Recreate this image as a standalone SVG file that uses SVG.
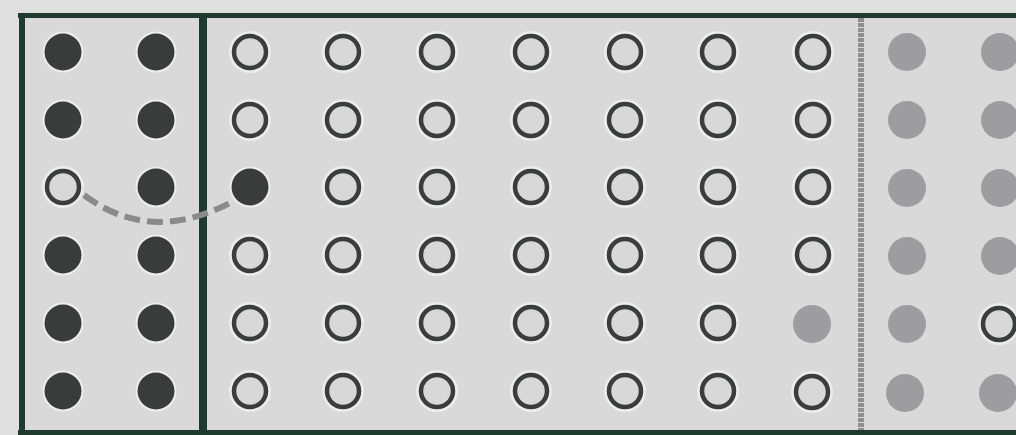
<svg xmlns="http://www.w3.org/2000/svg" width="1016" height="435" viewBox="0 0 1016 435">
<defs>
<g id="f"><circle r="20.5" fill="#eeeeee"/><circle r="18.5" fill="#3a3c3b"/></g>
<g id="o"><circle r="21" fill="#ececec"/><circle r="16" fill="#d8d8d8" stroke="#3b3d3c" stroke-width="4.5"/></g>
<g id="g"><circle r="19" fill="#9d9d9f"/></g>
</defs>
<style>
.frame{stroke:#1f3a2f;fill:none}
</style>
<rect x="0" y="0" width="1016" height="435" fill="#dfdfdf"/>
<rect x="22" y="16" width="1000" height="416" fill="#d9d9d9"/>
<g id="frame">
<line class="frame" x1="18" y1="15.5" x2="1016" y2="15.5" stroke-width="5"/>
<line class="frame" x1="22" y1="13" x2="22" y2="435" stroke-width="6"/>
<line class="frame" x1="203" y1="13" x2="203" y2="435" stroke-width="8"/>
<line class="frame" x1="18" y1="432.5" x2="1016" y2="432.5" stroke-width="5"/>
<line x1="861" y1="18" x2="861" y2="430" stroke="#8f8f8f" stroke-width="6" stroke-dasharray="4 1"/>
</g>
<g id="col0">
<use href="#f" x="63" y="52"/>
<use href="#f" x="63" y="120"/>
<use href="#o" x="63" y="187"/>
<use href="#f" x="63" y="255"/>
<use href="#f" x="63" y="323"/>
<use href="#f" x="63" y="391"/>
</g>
<g id="col1">
<use href="#f" x="156" y="52"/>
<use href="#f" x="156" y="120"/>
<use href="#f" x="156" y="187"/>
<use href="#f" x="156" y="255"/>
<use href="#f" x="156" y="323"/>
<use href="#f" x="156" y="391"/>
</g>
<g id="col2">
<use href="#o" x="250" y="52"/>
<use href="#o" x="250" y="120"/>
<use href="#f" x="250" y="187"/>
<use href="#o" x="250" y="255"/>
<use href="#o" x="250" y="323"/>
<use href="#o" x="250" y="391"/>
</g>
<g id="col3">
<use href="#o" x="343" y="52"/>
<use href="#o" x="343" y="120"/>
<use href="#o" x="343" y="187"/>
<use href="#o" x="343" y="255"/>
<use href="#o" x="343" y="323"/>
<use href="#o" x="343" y="391"/>
</g>
<g id="col4">
<use href="#o" x="437" y="52"/>
<use href="#o" x="437" y="120"/>
<use href="#o" x="437" y="187"/>
<use href="#o" x="437" y="255"/>
<use href="#o" x="437" y="323"/>
<use href="#o" x="437" y="391"/>
</g>
<g id="col5">
<use href="#o" x="531" y="52"/>
<use href="#o" x="531" y="120"/>
<use href="#o" x="531" y="187"/>
<use href="#o" x="531" y="255"/>
<use href="#o" x="531" y="323"/>
<use href="#o" x="531" y="391"/>
</g>
<g id="col6">
<use href="#o" x="625" y="52"/>
<use href="#o" x="625" y="120"/>
<use href="#o" x="625" y="187"/>
<use href="#o" x="625" y="255"/>
<use href="#o" x="625" y="323"/>
<use href="#o" x="625" y="391"/>
</g>
<g id="col7">
<use href="#o" x="718" y="52"/>
<use href="#o" x="718" y="120"/>
<use href="#o" x="718" y="187"/>
<use href="#o" x="718" y="255"/>
<use href="#o" x="718" y="323"/>
<use href="#o" x="718" y="391"/>
</g>
<g id="col8">
<use href="#o" x="813" y="52"/>
<use href="#o" x="813" y="120"/>
<use href="#o" x="813" y="187"/>
<use href="#o" x="813" y="255"/>
<use href="#g" x="812" y="324"/>
<use href="#o" x="812" y="392"/>
</g>
<g id="col9">
<use href="#g" x="907" y="52"/>
<use href="#g" x="907" y="120"/>
<use href="#g" x="907" y="188"/>
<use href="#g" x="907" y="256"/>
<use href="#g" x="907" y="324"/>
<use href="#g" x="905" y="393"/>
</g>
<g id="col10">
<use href="#g" x="1000" y="52"/>
<use href="#g" x="1000" y="120"/>
<use href="#g" x="1000" y="188"/>
<use href="#g" x="1000" y="256"/>
<use href="#o" x="999" y="324"/>
<use href="#g" x="998" y="393"/>
</g>
<g id="connectors">
<path d="M84 195 Q150 245 232 202" fill="none" stroke="#8a8a8a" stroke-width="6" stroke-dasharray="16 7"/>
</g>
</svg>
